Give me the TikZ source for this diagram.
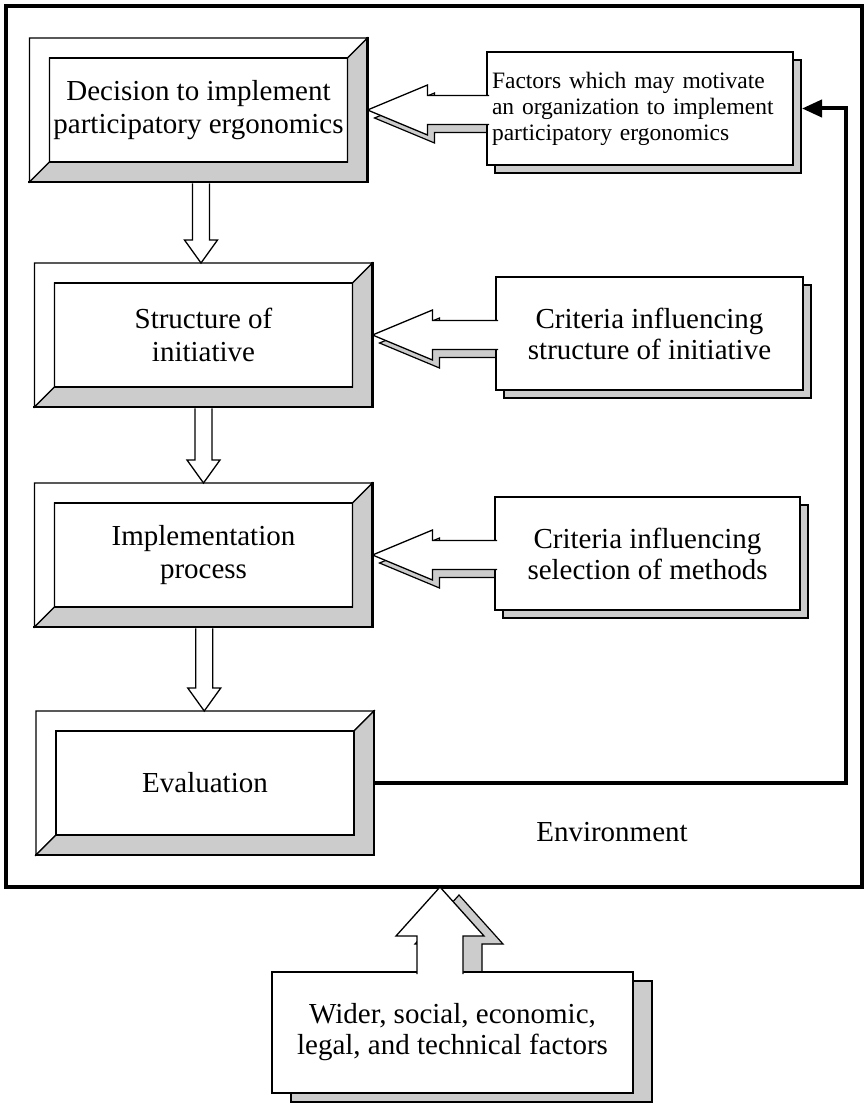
\documentclass[tikz,border=0pt]{standalone}
\usepackage{fontspec}
\setmainfont{Liberation Serif}
\usetikzlibrary{calc,backgrounds,arrows.meta}

\tikzset{
  envframe/.style={draw, line width=3.5pt, minimum width=856pt, minimum height=881pt, inner sep=0pt},
  stage/.style={draw, line width=1.2pt, fill=white, minimum width=298pt, minimum height=104pt,
    inner sep=0pt, outer sep=0pt, align=center, font=\fontsize{29pt}{33pt}\selectfont},
  bevellit/.style={fill=white, draw, line width=1.2pt},
  bevelshade/.style={fill=black!20, draw, line width=1.2pt},
  bevelrim/.style={draw, line width=2.6pt, line cap=rect},
  factor/.style={draw, line width=1.3pt, fill=white, inner sep=0pt, outer sep=0pt,
    minimum height=113pt, align=center, font=\fontsize{29pt}{31pt}\selectfont},
  shadowfill/.style={fill=black!20, draw, line width=1.2pt},
  hollow/.style={fill=white, draw, line width=1.3pt},
  feedback/.style={draw, line width=4pt, -{Triangle[length=20pt,width=17pt]}},
  envtext/.style={font=\fontsize{29pt}{33pt}\selectfont},
}

% bevelled frame around a stage node: white top/left, shaded bottom/right
\newcommand\bevelfr[1]{%
  \path (#1.north west) ++(-20pt,20pt) coordinate (#1-nw)
        (#1.north east) ++(20pt,20pt) coordinate (#1-ne)
        (#1.south east) ++(20pt,-20pt) coordinate (#1-se)
        (#1.south west) ++(-20pt,-20pt) coordinate (#1-sw)
        (#1.east) ++(20pt,0pt) coordinate (#1-e)
        (#1.south) ++(0pt,-20pt) coordinate (#1-s)
        (#1.north) ++(0pt,20pt) coordinate (#1-n);
  \filldraw[bevellit] (#1-nw) -- (#1-ne) -- (#1.north east) -- (#1.north west)
     -- (#1.south west) -- (#1-sw) -- cycle;
  \filldraw[bevelshade] (#1.north east) -- (#1-ne) -- (#1-se) -- (#1-sw)
     -- (#1.south west) -- (#1.south east) -- cycle;
  \draw[bevelrim] (#1-sw) -- (#1-se) -- (#1-ne);
  \draw[line width=1.2pt] (#1.north west) rectangle (#1.south east);
}

% offset copy of a box, drawn behind it
\newcommand\dropbox[2]{%
  \begin{scope}[on background layer]
    \draw[shadowfill] ($(#1.north west)+(#2)$) rectangle ($(#1.south east)+(#2)$);
  \end{scope}}

% hollow block arrow pointing left: #1 style, #2 source box, #3 tip, #4 offset
\newcommand\sidearrow[4]{%
  \draw[#1] let \p1=(#3), \p2=(#2.west), \p3=(#4) in
    (\x2+2pt+\x3,\y1+14.5pt+\y3) -- (\x2+\x3,\y1+14.5pt+\y3)
    -- (\x1+60pt+\x3,\y1+14.5pt+\y3) -- (\x1+60pt+\x3,\y1+25pt+\y3)
    -- (\x1+\x3,\y1+\y3)
    -- (\x1+60pt+\x3,\y1-25pt+\y3) -- (\x1+60pt+\x3,\y1-14.5pt+\y3)
    -- (\x2+\x3,\y1-14.5pt+\y3) -- (\x2+2pt+\x3,\y1-14.5pt+\y3);
}

% hollow block arrow pointing down from one stage to the next
\newcommand\flowdown[2]{%
  \draw[hollow] let \p1=(#1-s), \p2=(#2-n), \p3=($(#1-s)!0.5!(#2-n)$) in
    (\x3-8.5pt,\y1-1.3pt) -- (\x3-8.5pt,\y2+23pt) -- (\x3-16.5pt,\y2+23pt)
    -- (\x3,\y2) -- (\x3+16.5pt,\y2+23pt) -- (\x3+8.5pt,\y2+23pt)
    -- (\x3+8.5pt,\y1-1.3pt);
}

% hollow block arrow pointing up: #1 style, #2 source box, #3 tip, #4 offset
\newcommand\riseup[4]{%
  \draw[#1] let \p1=(#3), \p2=(#2.north), \p3=(#4) in
    (\x1-23pt+\x3,\y2-2pt+\y3) -- (\x1-23pt+\x3,\y2+\y3)
    -- (\x1-23pt+\x3,\y1-49pt+\y3) -- (\x1-44pt+\x3,\y1-49pt+\y3)
    -- (\x1+\x3,\y1+\y3)
    -- (\x1+44pt+\x3,\y1-49pt+\y3) -- (\x1+23pt+\x3,\y1-49pt+\y3)
    -- (\x1+23pt+\x3,\y2+\y3) -- (\x1+23pt+\x3,\y2-2pt+\y3);
}

\begin{document}
\begin{tikzpicture}[x=1pt,y=-1pt]
\useasboundingbox (0,0) rectangle (866,1107);

% environment
\node[envframe] (env) at (434,446.5) {};
\node[envtext] (envlabel) at (612,832) {Environment};

% stages of the initiative
\node[stage] (decide) at (198.5,110) {Decision to implement\\participatory ergonomics};
\bevelfr{decide}
\node[stage] (struct) at (203.5,335) {Structure of\\initiative};
\bevelfr{struct}
\node[stage] (impl) at (203.5,555) {Implementation\\process};
\bevelfr{impl}
\node[stage] (eval) at (205,783) {Evaluation};
\bevelfr{eval}

\flowdown{decide}{struct}
\flowdown{struct}{impl}
\flowdown{impl}{eval}

% influencing factors
\node[factor, minimum width=306pt, text width=296pt, align=left,
      font=\fontsize{23.5pt}{26pt}\selectfont] (motive) at (640,108.5)
  {Factors which may motivate\\an organization to implement\\participatory ergonomics};
\dropbox{motive}{8pt,-8pt}
\node[factor, minimum width=307pt] (critS) at (649.5,333.5) {Criteria influencing\\structure of initiative};
\dropbox{critS}{8pt,-8pt}
\node[factor, minimum width=305pt] (critM) at (647.5,553.5) {Criteria influencing\\selection of methods};
\dropbox{critM}{8pt,-8pt}

\begin{scope}[on background layer]
  \sidearrow{shadowfill}{motive}{decide-e}{7pt,-8pt}
  \sidearrow{shadowfill}{critS}{struct-e}{7pt,-8pt}
  \sidearrow{shadowfill}{critM}{impl-e}{7pt,-8pt}
\end{scope}
\sidearrow{hollow}{motive}{decide-e}{0pt,0pt}
\sidearrow{hollow}{critS}{struct-e}{0pt,0pt}
\sidearrow{hollow}{critM}{impl-e}{0pt,0pt}

% feedback from evaluation
\draw[feedback] (eval-e) -| ($(motive.east)+(53pt,0pt)$) -- ($(motive.east)+(9pt,0pt)$);

% wider context
\node[factor, minimum width=361pt, minimum height=121pt] (wider) at (452.5,1032.5)
  {Wider, social, economic,\\legal, and technical factors};
\dropbox{wider}{19pt,-9pt}
\coordinate (inflow) at (440,887);
\begin{scope}[on background layer]
  \riseup{shadowfill}{wider}{inflow}{19pt,-8pt}
\end{scope}
\riseup{hollow}{wider}{inflow}{0pt,0pt}
\end{tikzpicture}
\end{document}
